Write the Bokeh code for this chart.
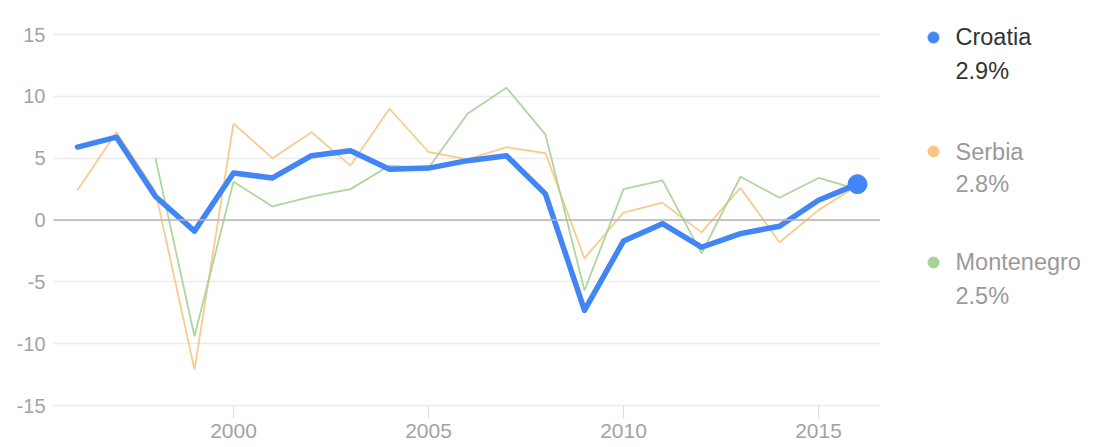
import numpy as np
from bokeh.plotting import figure
from bokeh.models import Range1d, FixedTicker, Span, ColumnDataSource
from bokeh.layouts import row
from bokeh.core.properties import value
from bokeh.embed import file_html
from bokeh.resources import INLINE

years = list(range(1996, 2017))
countries = ["Croatia", "Serbia", "Montenegro"]
croatia = [5.9, 6.7, 1.9, -0.9, 3.8, 3.4, 5.2, 5.6, 4.1, 4.2, 4.8, 5.2, 2.1, -7.3, -1.7, -0.3, -2.2, -1.1, -0.5, 1.6, 2.9]
serbia = [2.4, 7.1, 2.3, -12.1, 7.8, 5.0, 7.1, 4.4, 9.0, 5.5, 4.9, 5.9, 5.4, -3.1, 0.6, 1.4, -1.0, 2.6, -1.8, 0.8, 2.8]
montenegro = [np.nan, np.nan, 5.0, -9.4, 3.1, 1.1, 1.9, 2.5, 4.4, 4.2, 8.6, 10.7, 6.9, -5.7, 2.5, 3.2, -2.7, 3.5, 1.8, 3.4, 2.5]
y_ticks = [-15, -10, -5, 0, 5, 10, 15]
x_ticks = [2000, 2005, 2010, 2015]

BLUE = "#4285f4"
ORANGE = "#f8c583"
GREEN = "#a6d294"
FONT = "Liberation Sans"
LABEL_GREY = "#a3a3a3"

p = figure(width=880, height=447, output_backend="svg", toolbar_location=None,
           x_range=Range1d(1995.385, 2016.59), y_range=Range1d(-15, 15.65),
           min_border_left=53, min_border_right=0, min_border_top=26, min_border_bottom=42)
p.outline_line_color = None
p.background_fill_color = "white"
p.border_fill_color = "white"

p.xgrid.grid_line_color = None
p.ygrid.grid_line_color = "#ececec"
p.ygrid.grid_line_width = 1.5
p.yaxis.ticker = FixedTicker(ticks=y_ticks)
p.xaxis.ticker = FixedTicker(ticks=x_ticks)
p.yaxis.major_label_overrides = {t: str(t) for t in y_ticks}
p.yaxis.axis_line_color = None
p.yaxis.major_tick_line_color = None
p.yaxis.minor_tick_line_color = None
p.yaxis.major_label_standoff = 2
p.xaxis.axis_line_color = "#ececec"
p.xaxis.axis_line_width = 1.5
p.xaxis.major_tick_line_color = "#dddddd"
p.xaxis.major_tick_out = 13
p.xaxis.major_tick_in = 0
p.xaxis.minor_tick_line_color = None
p.xaxis.major_label_standoff = 5
p.xaxis.axis_label_standoff = 0
for ax in (p.xaxis, p.yaxis):
    ax.major_label_text_font = FONT
    ax.major_label_text_color = LABEL_GREY
p.yaxis.major_label_text_font_size = "20px"
p.xaxis.major_label_text_font_size = "21px"

p.add_layout(Span(location=0, dimension="width", line_color="#b5b5b5", line_width=1.5))

p.line(years, serbia, line_color=ORANGE, line_width=1.8, line_alpha=0.9)
p.line(years, montenegro, line_color=GREEN, line_width=1.8, line_alpha=0.9)
p.line(years, croatia, line_color=BLUE, line_width=5.5, line_join="round", line_cap="round")
p.scatter([years[-1]], [croatia[-1]], size=19, fill_color=BLUE, line_color=BLUE)

# legend panel (its frame is aligned with the chart frame by the row layout)
leg = figure(width=207, height=447, output_backend="svg", toolbar_location=None,
             x_range=Range1d(880, 1087), y_range=Range1d(405, 26),
             x_axis_type=None, y_axis_type=None,
             min_border_left=0, min_border_right=0, min_border_top=26, min_border_bottom=42)
leg.grid.grid_line_color = None
leg.outline_line_color = None
leg.background_fill_color = "white"
leg.border_fill_color = "white"

last_vals = [croatia[-1], serbia[-1], montenegro[-1]]
dot_colors = [BLUE, ORANGE, GREEN]
text_colors = ["#333333", "#9a9a9a", "#9a9a9a"]
dot_y = [37, 151, 262]
src = ColumnDataSource(dict(
    x=[933] * 3, y=dot_y, c=dot_colors,
    tx=[955] * 3, ny=[36, 151, 261], vy=[70, 183, 295],
    name=countries, val=[f"{v:.1f}%" for v in last_vals], tc=text_colors,
))
leg.scatter("x", "y", source=src, size=11, fill_color="c", line_color="c")
leg.text("tx", "ny", text="name", source=src, text_color="tc", text_font=value(FONT),
         text_font_size="23.5px", text_baseline="alphabetic")
leg.text("tx", "vy", text="val", source=src, text_color="tc", text_font=value(FONT),
         text_font_size="23.5px", text_baseline="alphabetic")

layout = row(p, leg)
open("out.html", "w").write(file_html(layout, INLINE))
